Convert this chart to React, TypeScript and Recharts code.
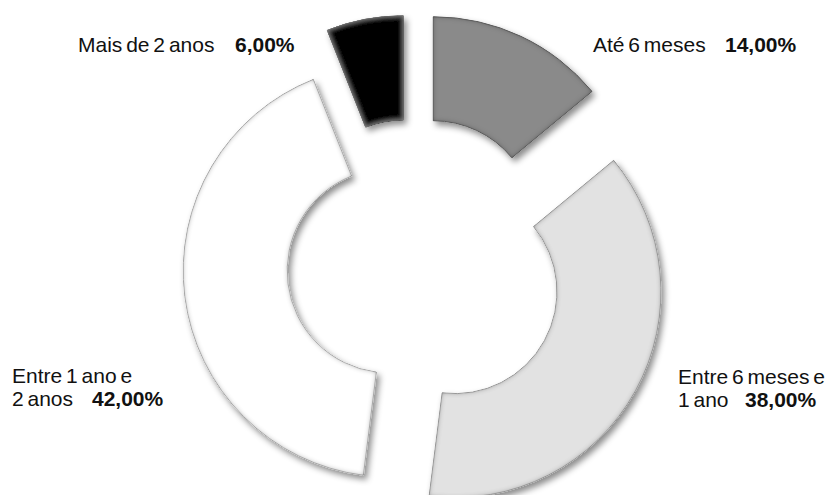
import React from 'react';
import { PieChart, Pie, Cell } from 'recharts';

// Tempo (distribuição em %)
const categories = ['Até 6 meses', 'Entre 6 meses e 1 ano', 'Entre 1 ano e 2 anos', 'Mais de 2 anos'];
const shares = [14, 38, 42, 6];
// the category names wrapped the way the original labels are
const labelLines = [['Até 6 meses'], ['Entre 6 meses e', '1 ano'], ['Entre 1 ano e', '2 anos'], ['Mais de 2 anos']];

const data = categories.map((name, i) => ({ name, value: shares[i] }));

// styling
const COLORS = ['#8a8a8a', '#e2e2e2', '#ffffff', '#000000'];
const STROKES = ['#6c6c6c', '#b0b0b0', '#c4c4c4', '#000000'];
const FILTERS = ['bevelDark', 'bevelDark', 'bevelDark', 'bevelLight'];
const EXPLODE = [50, 49, 23, 47]; // how far each slice is pulled out
const LABEL_POS = [
  { x: 593, y: 52, px: 725 },
  { x: 678, y: 384, px: 745 },
  { x: 12, y: 383, px: 92 },
  { x: 78, y: 52, px: 235 },
];
const LINE_H = 23;
const FONT = '"Liberation Sans", Arial, sans-serif';

const fmt = (v: number) => v.toFixed(2).replace('.', ',') + '%';

// mid angle of each slice (recharts goes clockwise from 90)
const total = shares.reduce((a, b) => a + b, 0);
const midAngles = shares.map((v, i) => {
  const before = shares.slice(0, i).reduce((a, b) => a + b, 0);
  return 90 - (360 * (before + v / 2)) / total;
});

const offsetOf = (i: number) => {
  const rad = (midAngles[i] * Math.PI) / 180;
  return { dx: EXPLODE[i] * Math.cos(rad), dy: -EXPLODE[i] * Math.sin(rad) };
};

const renderLabel = (props: any) => {
  const { index, value } = props;
  const pos = LABEL_POS[index];
  const lines = labelLines[index];
  const last = pos.y + (lines.length - 1) * LINE_H;
  return (
    <g key={'lbl' + index}>
      {lines.map((t, k) => (
        <text key={k} x={pos.x} y={pos.y + k * LINE_H} fill="#111" fontSize={21} fontFamily={FONT} wordSpacing={-2}>
          {t}
        </text>
      ))}
      <text x={pos.px} y={last} fill="#111" fontSize={21} fontWeight="bold" fontFamily={FONT}>
        {fmt(value)}
      </text>
    </g>
  );
};

const bevel = (id: string, edgeColor: string, edgeOpacity: number) => (
  <filter id={id} x="-20%" y="-20%" width="140%" height="140%">
    <feGaussianBlur in="SourceAlpha" stdDeviation="2.5" result="blur" />
    <feComposite in="SourceAlpha" in2="blur" operator="arithmetic" k2="1" k3="-1" result="edge" />
    <feFlood floodColor={edgeColor} floodOpacity={edgeOpacity} />
    <feComposite in2="edge" operator="in" result="edgeShade" />
    <feOffset in="SourceAlpha" dx="3" dy="4" result="off" />
    <feGaussianBlur in="off" stdDeviation="3" result="shadowBlur" />
    <feFlood floodColor="#000" floodOpacity="0.45" />
    <feComposite in2="shadowBlur" operator="in" result="shadow" />
    <feMerge>
      <feMergeNode in="shadow" />
      <feMergeNode in="SourceGraphic" />
      <feMergeNode in="edgeShade" />
    </feMerge>
  </filter>
);

export default function App() {
  return (
    <div style={{ position: 'absolute', left: 0, top: 0, width: 839, height: 495, background: '#fff' }}>
      <PieChart width={839} height={495} margin={{ top: 0, right: 0, bottom: 0, left: 0 }}>
        <defs>
          {bevel('bevelDark', '#000', 0.7)}
          {bevel('bevelLight', '#9a9a9a', 0.9)}
        </defs>
        <Pie
          data={data}
          dataKey="value"
          nameKey="name"
          cx={412}
          cy={268}
          innerRadius={102}
          outerRadius={206}
          startAngle={90}
          endAngle={-270}
          label={renderLabel}
          labelLine={false}
          isAnimationActive={false}
        >
          {data.map((d, i) => {
            const o = offsetOf(i);
            return (
              <Cell
                key={d.name}
                fill={COLORS[i]}
                stroke={STROKES[i]}
                strokeWidth={1}
                style={{ transform: `translate(${o.dx}px, ${o.dy}px)`, filter: `url(#${FILTERS[i]})`, outline: 'none' }}
              />
            );
          })}
        </Pie>
      </PieChart>
    </div>
  );
}
